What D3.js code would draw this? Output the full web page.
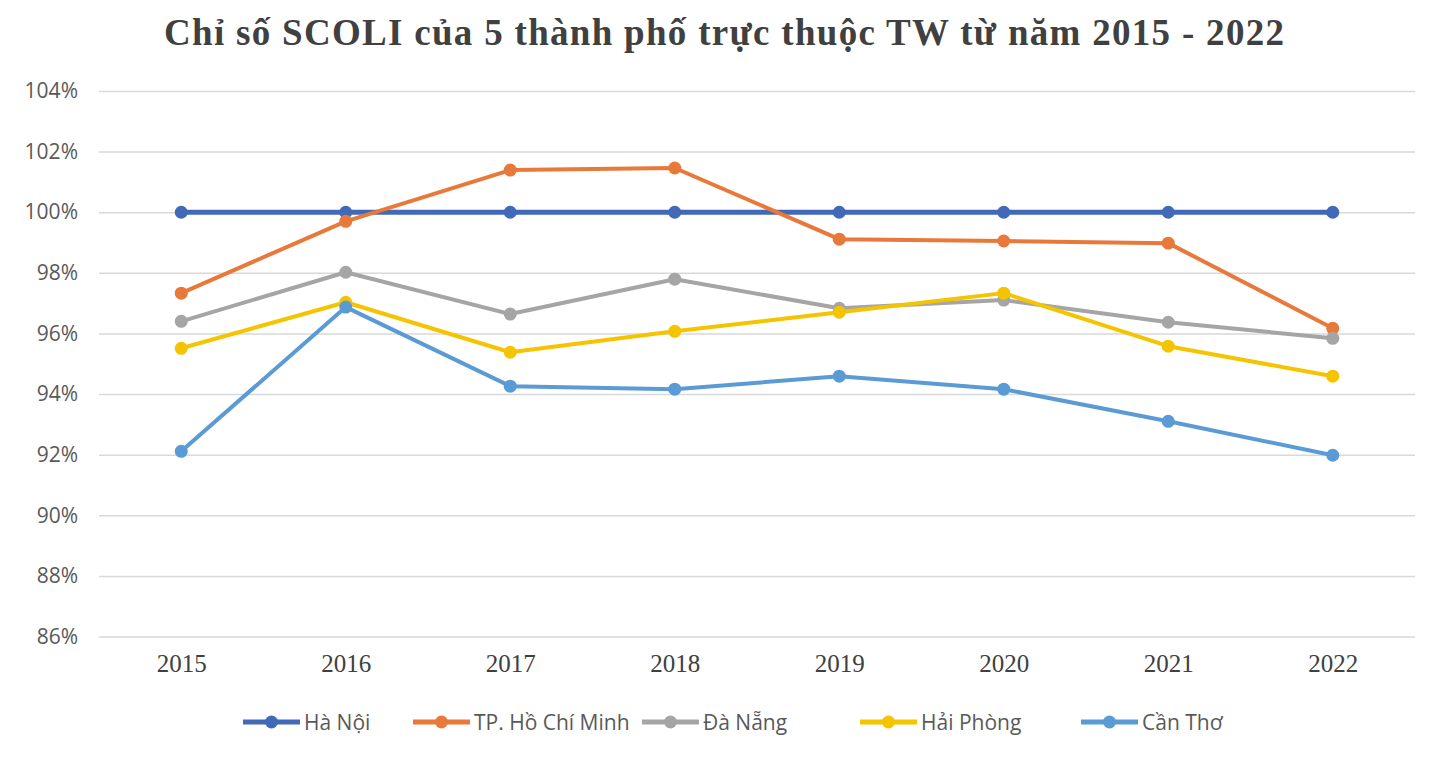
<!DOCTYPE html>
<html><head><meta charset="utf-8">
<script src="https://cdn.jsdelivr.net/npm/d3@7"></script>
<style>body{margin:0;background:#fff}svg{display:block}</style>
</head><body>
<svg id="c" width="1436" height="770"></svg>
<script>
const years = ["2015","2016","2017","2018","2019","2020","2021","2022"];
const yTicks = [86,88,90,92,94,96,98,100,102,104];
const seriesNames = ["Hà Nội","TP. Hồ Chí Minh","Đà Nẵng","Hải Phòng","Cần Thơ"];
const haNoi   = [100,100,100,100,100,100,100,100];
const hcm     = [97.33,99.7,101.39,101.46,99.11,99.05,98.98,96.17];
const daNang  = [96.4,98.02,96.64,97.79,96.83,97.1,96.37,95.84];
const haiPhong= [95.51,97.03,95.38,96.07,96.7,97.33,95.58,94.59];
const canTho  = [92.11,96.87,94.26,94.16,94.59,94.16,93.1,91.98];
const title = "Chỉ số SCOLI của 5 thành phố trực thuộc TW từ năm 2015 - 2022";

const colors = ["#4169B8","#E8793A","#A5A5A5","#F5C400","#5B9BD5"];
const widths = [5,4,4,4,4];
const data = [haNoi,hcm,daNang,haiPhong,canTho];

const svg = d3.select("#c");
const L=99,R=1415,T=91,B=636.5;
const x = d3.scalePoint().domain(years).range([L,R]).padding(0.5);
const y = d3.scaleLinear().domain([86,104]).range([B,T]);

svg.append("text").attr("x",724).attr("y",45).attr("text-anchor","middle")
  .attr("font-family","Liberation Serif, Times New Roman, serif").attr("font-weight","bold")
  .attr("font-size",37).attr("fill","#404040")
  .attr("textLength",1120).attr("lengthAdjust","spacing").text(title);

// grid
const yAxis = d3.axisLeft(y).tickValues(yTicks).tickSize(-(R-L)).tickFormat(d=>d+"%").tickPadding(21);
const gy = svg.append("g").attr("transform",`translate(${L},0)`).call(yAxis);
gy.select(".domain").remove();
gy.selectAll(".tick line").attr("stroke","#D9D9D9").attr("stroke-width",1.5);
gy.selectAll(".tick text").attr("font-family","Open Sans, Noto Sans, sans-serif").attr("font-size",21).attr("fill","#595959");

const xAxis = d3.axisBottom(x).tickSize(0).tickPadding(18);
const gx = svg.append("g").attr("transform",`translate(0,${B})`).call(xAxis);
gx.select(".domain").remove();
gx.selectAll(".tick text").attr("font-family","Liberation Serif, Times New Roman, serif").attr("font-size",25).attr("fill","#404040");

const line = d3.line().x((d,i)=>x(years[i])).y(d=>y(d));
data.forEach((s,k)=>{
  const g = svg.append("g");
  g.append("path").attr("d",line(s)).attr("fill","none").attr("stroke",colors[k]).attr("stroke-width",widths[k]).attr("stroke-linejoin","round");
  g.selectAll("circle").data(s).join("circle").attr("cx",(d,i)=>x(years[i])).attr("cy",d=>y(d)).attr("r",6.5).attr("fill",colors[k]);
});

// legend
const legX = [243,413,642,860,1081];
const lg = svg.append("g");
seriesNames.forEach((n,k)=>{
  const g = lg.append("g").attr("transform",`translate(${legX[k]},722)`);
  g.append("line").attr("x1",0).attr("x2",57).attr("stroke",colors[k]).attr("stroke-width",5);
  g.append("circle").attr("cx",28.5).attr("r",6.5).attr("fill",colors[k]);
  g.append("text").attr("x",61).attr("y",8).attr("font-family","Open Sans, Noto Sans, sans-serif").attr("font-size",21).attr("fill","#595959").text(n);
});
</script>
</body></html>
